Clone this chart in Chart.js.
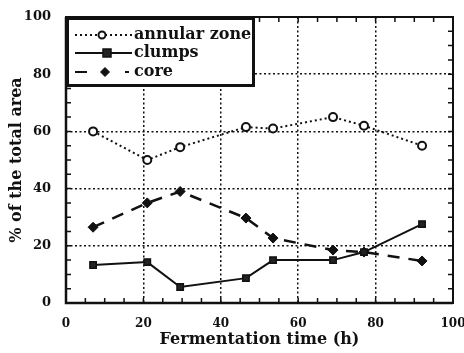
<!DOCTYPE html>
<html>
<head>
<meta charset="utf-8">
<script src="https://cdn.jsdelivr.net/npm/chart.js@4"></script>
<style>
body { margin: 0; background: #fff; }
#wrap { width: 464px; height: 353px; position: relative; }
</style>
</head>
<body>
<div id="wrap"><canvas id="chart"></canvas></div>
<script>
// data
var times = [7, 21, 29.5, 46.5, 53.5, 69, 77, 92]
var annular = [60, 50, 54.5, 61.5, 61, 65, 62, 55]
var clumps = [13.3, 14.3, 5.6, 8.7, 15, 15, 17.8, 27.6]
var core = [26.5, 35, 39, 29.7, 22.7, 18.5, 17.8, 14.7]
var seriesNames = ['annular zone', 'clumps', 'core']
var xTicks = [0, 20, 40, 60, 80, 100]
var yTicks = [0, 20, 40, 60, 80, 100]

var serif = '"DejaVu Serif", "Liberation Serif", serif'

function points(values) {
    return values.map(function (v, i) { return { x: times[i], y: v } })
}

function gridColor(ctx) {
    var v = ctx.tick ? ctx.tick.value : 0
    return (v > 0 && v < 100) ? '#111' : 'rgba(0,0,0,0)'
}

// frame, inward minor ticks and the boxed legend
var framePlugin = {
    id: 'frame',
    afterDraw: function (chart) {
        var c = chart.ctx, a = chart.chartArea
        var xs = chart.scales.x, ys = chart.scales.y
        c.save()
        c.strokeStyle = '#111'
        c.lineWidth = 2
        c.strokeRect(a.left, a.top, a.right - a.left, a.bottom - a.top)
        c.lineWidth = 2.5
        c.beginPath()
        c.moveTo(a.left, a.top); c.lineTo(a.left, a.bottom); c.lineTo(a.right, a.bottom)
        c.stroke()
        c.lineWidth = 1.5
        for (var v = 5; v < 100; v += 5) {
            var px = xs.getPixelForValue(v), py = ys.getPixelForValue(v)
            c.beginPath()
            c.moveTo(px, a.bottom); c.lineTo(px, a.bottom - 5)
            c.moveTo(px, a.top); c.lineTo(px, a.top + 5)
            c.moveTo(a.left, py); c.lineTo(a.left + 5, py)
            c.moveTo(a.right, py); c.lineTo(a.right - 5, py)
            c.stroke()
        }
        // legend box
        var bx = a.left, by = a.top, bw = 189, bh = 70
        c.fillStyle = '#fff'
        c.fillRect(bx, by, bw, bh)
        c.lineWidth = 3
        c.strokeRect(bx + 1.5, by + 1.5, bw - 3, bh - 3)
        var rows = [by + 18, by + 36, by + 55]
        c.font = 'bold 16px ' + serif
        c.textBaseline = 'middle'
        chart.data.datasets.forEach(function (ds, i) {
            var y = rows[i]
            c.strokeStyle = ds.borderColor
            c.lineWidth = 2
            c.setLineDash(ds.borderDash || [])
            c.beginPath()
            if (i === 2) {
                c.moveTo(bx + 9, y); c.lineTo(bx + 21, y)
                c.moveTo(bx + 59, y); c.lineTo(bx + 63, y)
            } else {
                c.moveTo(bx + 9, y); c.lineTo(bx + 66, y)
            }
            c.stroke()
            c.setLineDash([])
            var mx = [bx + 36, bx + 41, bx + 39][i]
            c.fillStyle = ds.pointBackgroundColor
            c.strokeStyle = ds.pointBorderColor
            c.lineWidth = ds.pointBorderWidth
            c.beginPath()
            if (ds.pointStyle === 'circle') {
                c.arc(mx, y, 3.5, 0, Math.PI * 2)
            } else if (ds.pointStyle === 'rect') {
                c.rect(mx - 4, y - 4, 8, 8)
            } else {
                c.moveTo(mx, y - 4.5); c.lineTo(mx + 4.5, y); c.lineTo(mx, y + 4.5); c.lineTo(mx - 4.5, y); c.closePath()
            }
            c.fill()
            c.stroke()
            c.fillStyle = '#111'
            c.fillText(ds.label, bx + 68, y)
        })
        c.restore()
    }
}

new Chart(document.getElementById('chart'), {
    type: 'scatter',
    data: {
        datasets: [
            {
                label: seriesNames[0],
                data: points(annular),
                showLine: true,
                borderColor: '#111',
                borderWidth: 2,
                borderDash: [2, 3],
                pointStyle: 'circle',
                pointRadius: 4,
                pointBackgroundColor: '#fff',
                pointBorderColor: '#111',
                pointBorderWidth: 2
            },
            {
                label: seriesNames[1],
                data: points(clumps),
                showLine: true,
                borderColor: '#111',
                borderWidth: 2,
                pointStyle: 'rect',
                pointRadius: 4.5,
                pointBackgroundColor: '#222',
                pointBorderColor: '#111',
                pointBorderWidth: 1.5
            },
            {
                label: seriesNames[2],
                data: points(core),
                showLine: true,
                borderColor: '#111',
                borderWidth: 2.5,
                borderDash: [12, 9],
                pointStyle: 'rectRot',
                pointRadius: 5,
                pointBackgroundColor: '#111',
                pointBorderColor: '#111',
                pointBorderWidth: 1
            }
        ]
    },
    options: {
        responsive: true,
        maintainAspectRatio: false,
        animation: false,
        layout: { padding: { top: 17, right: 11, left: 0, bottom: 0 } },
        plugins: {
            legend: { display: false },
            tooltip: { enabled: false }
        },
        scales: {
            x: {
                type: 'linear',
                min: 0,
                max: 100,
                afterFit: function (s) { s.height = 50; s.paddingLeft = 0; s.paddingRight = 0 },
                afterBuildTicks: function (s) { s.ticks = xTicks.map(function (v) { return { value: v } }) },
                grid: { color: gridColor, lineWidth: 1.5, drawTicks: false },
                border: { display: false, dash: [2, 2.5] },
                ticks: { padding: 14, color: '#111', font: { family: serif, size: 12, weight: 'bold' } },
                title: {
                    display: true,
                    text: 'Fermentation time (h)',
                    color: '#111',
                    padding: { top: 0, bottom: 4 },
                    font: { family: serif, size: 16, weight: 'bold' }
                }
            },
            y: {
                min: 0,
                max: 100,
                afterFit: function (s) { s.width = 66; s.paddingTop = 0; s.paddingBottom = 0 },
                afterBuildTicks: function (s) { s.ticks = yTicks.map(function (v) { return { value: v } }) },
                grid: { color: gridColor, lineWidth: 1.5, drawTicks: false },
                border: { display: false, dash: [2, 2.5] },
                ticks: { padding: 15, color: '#111', font: { family: serif, size: 13, weight: 'bold' } },
                title: {
                    display: true,
                    text: '% of the total area',
                    color: '#111',
                    padding: { top: 7, bottom: 0 },
                    font: { family: serif, size: 16, weight: 'bold' }
                }
            }
        }
    },
    plugins: [framePlugin]
})
</script>
</body>
</html>
